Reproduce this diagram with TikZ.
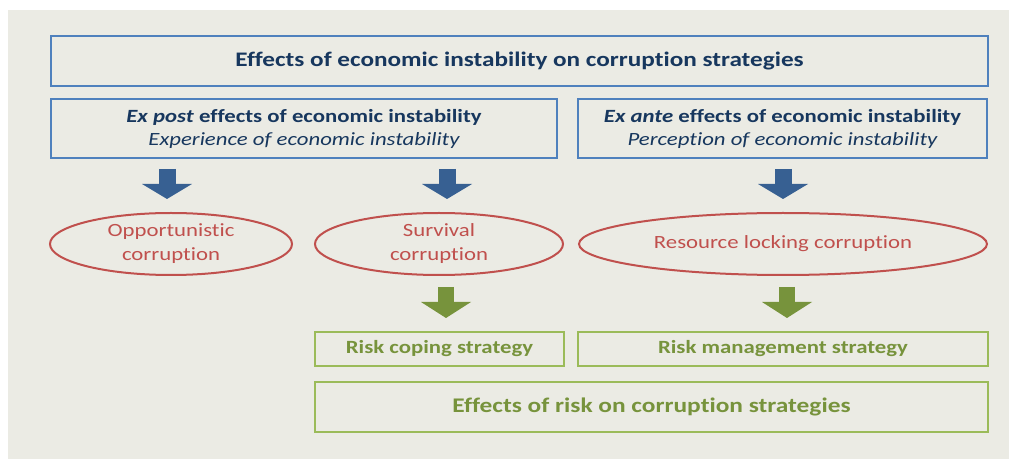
\documentclass[tikz,border=0pt]{standalone}
\usepackage{fontspec}
\setmainfont{Carlito}[FakeStretch=1.22,Ligatures=NoCommon]
\usetikzlibrary{arrows.meta,positioning,shapes.geometric}
\newdimen\pxu
\pxu=0.75pt
\definecolor{panelgrey}{RGB}{235,235,228}
\definecolor{boxblue}{RGB}{79,129,189}
\definecolor{navyblue}{RGB}{23,55,94}
\definecolor{arrowblue}{RGB}{55,96,146}
\definecolor{corrred}{RGB}{192,80,77}
\definecolor{riskgreen}{RGB}{155,187,89}
\definecolor{darkgreen}{RGB}{119,147,60}
\tikzset{
  headbox/.style={
    draw=boxblue,
    line width=2.2\pxu,
    text=navyblue,
    align=center,
    inner sep=0pt,
    outer sep=0pt,
    font=\fontsize{15.5pt}{18pt}\selectfont\bfseries
  },
  causebox/.style={
    headbox,
    minimum height=59\pxu,
    font=\fontsize{14pt}{17.25pt}\selectfont\bfseries
  },
  corrupt/.style={
    ellipse,
    draw=corrred,
    line width=2\pxu,
    text=corrred,
    align=center,
    inner sep=0pt,
    outer sep=0pt,
    minimum height=62\pxu,
    font=\fontsize{14pt}{18pt}\selectfont
  },
  riskbox/.style={
    draw=riskgreen,
    line width=2.4\pxu,
    text=darkgreen,
    align=center,
    inner sep=0pt,
    outer sep=0pt,
    minimum height=34\pxu,
    font=\fontsize{14pt}{17pt}\selectfont\bfseries
  },
  bluearrow/.style={
    -{Triangle[width=37.5pt,length=11.25pt,line width=0pt]},
    line width=12.75pt,
    arrowblue
  },
  greenarrow/.style={
    -{Triangle[width=37.5pt,length=12pt,line width=0pt]},
    line width=12pt,
    darkgreen
  }
}

\begin{document}
\begin{tikzpicture}[x=0.75pt,y=-0.75pt]
\useasboundingbox (0,0) rectangle (1009,459);
\fill[panelgrey] (8,10) rectangle (1009,459);

% instability boxes
\node[headbox, minimum width=937\pxu, minimum height=50\pxu] (title) at (519.5,61) {Effects of economic instability on corruption strategies};
\node[causebox, below=13\pxu of title.south west, anchor=north west, minimum width=506\pxu] (expost) {\textit{Ex post} effects of economic instability\\{\mdseries\itshape Experience of economic instability}};
\node[causebox, right=21\pxu of expost, minimum width=409\pxu] (exante) {\textit{Ex ante} effects of economic instability\\{\mdseries\itshape Perception of economic instability}};

% corruption types
\node[corrupt, minimum width=242\pxu] (opport) at (171,244) {Opportunistic\\corruption};
\node[corrupt, minimum width=248\pxu] (surviv) at (439,244) {Survival\\corruption};
\node[corrupt, minimum width=408\pxu] (locking) at (783,244) {Resource locking corruption};

% risk strategies
\node[riskbox, minimum width=249\pxu] (coping) at (439.5,349) {Risk coping strategy};
\node[riskbox, right=14\pxu of coping, minimum width=410\pxu] (manage) {Risk management strategy};
\node[riskbox, below=16\pxu of coping.south west, anchor=north west, minimum width=673\pxu, minimum height=50\pxu,
  font=\fontsize{15.6pt}{19pt}\selectfont\bfseries] (riskeff) {Effects of risk on corruption strategies};

% block arrows
\coordinate (b1) at (167,169);
\coordinate (b1e) at (167,199);
\coordinate (b2) at (447,169);
\coordinate (b2e) at (447,199);
\coordinate (b3) at (783,169);
\coordinate (b3e) at (783,199);
\coordinate (g1) at (446,287);
\coordinate (g1e) at (446,318);
\coordinate (g2) at (787,287);
\coordinate (g2e) at (787,318);
\draw[bluearrow] (b1) -- (b1e);
\draw[bluearrow] (b2) -- (b2e);
\draw[bluearrow] (b3) -- (b3e);
\draw[greenarrow] (g1) -- (g1e);
\draw[greenarrow] (g2) -- (g2e);
\end{tikzpicture}
\end{document}
